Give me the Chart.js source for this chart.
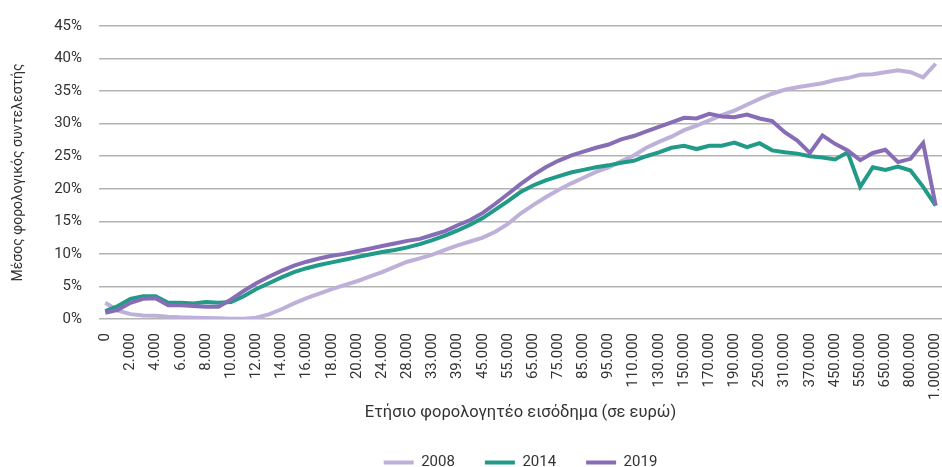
<!DOCTYPE html>
<html lang="el">
<head>
<meta charset="utf-8">
<title>Μέσος φορολογικός συντελεστής</title>
<script src="https://cdn.jsdelivr.net/npm/chart.js@4.4.1/dist/chart.umd.min.js"></script>
<style>
  html, body { margin: 0; padding: 0; background: #fff; }
  #wrap { width: 942px; height: 467px; position: relative; }
</style>
</head>
<body>
<div id="wrap"><canvas id="taxChart"></canvas></div>
<script>
// Κατηγορίες εισοδήματος (άξονας x)
const categorias = [
  '0', '1.000', '2.000', '3.000', '4.000', '5.000', '6.000', '7.000', '8.000', '9.000',
  '10.000', '11.000', '12.000', '13.000', '14.000', '15.000', '16.000', '17.000', '18.000', '19.000',
  '20.000', '22.000', '24.000', '26.000', '28.000', '30.000', '33.000', '36.000', '39.000', '42.000',
  '45.000', '50.000', '55.000', '60.000', '65.000', '70.000', '75.000', '80.000', '85.000', '90.000',
  '95.000', '100.000', '110.000', '120.000', '130.000', '140.000', '150.000', '160.000', '170.000', '180.000',
  '190.000', '220.000', '250.000', '280.000', '310.000', '340.000', '370.000', '410.000', '450.000', '500.000',
  '550.000', '600.000', '650.000', '700.000', '800.000', '900.000', '1.000.000'
];

// Μέσος συντελεστής (%) ανά έτος
const valores2008 = [
  2.5, 1.3, 0.75, 0.55, 0.5, 0.35, 0.25, 0.2, 0.15, 0.1,
  0.05, 0.05, 0.2, 0.7, 1.5, 2.4, 3.2, 3.9, 4.6, 5.2,
  5.8, 6.5, 7.2, 8.0, 8.8, 9.3, 9.9, 10.6, 11.3, 11.9,
  12.5, 13.4, 14.6, 16.2, 17.5, 18.7, 19.8, 20.8, 21.7, 22.6,
  23.3, 24.2, 25.1, 26.3, 27.2, 28.0, 29.0, 29.7, 30.5, 31.3,
  32.0, 32.9, 33.8, 34.6, 35.2, 35.6, 35.9, 36.2, 36.7, 37.0,
  37.5, 37.6, 37.9, 38.2, 37.9, 37.1, 39.2
];
const valores2014 = [
  1.2, 2.0, 3.1, 3.5, 3.5, 2.5, 2.5, 2.4, 2.6, 2.5,
  2.6, 3.5, 4.6, 5.5, 6.4, 7.2, 7.8, 8.3, 8.7, 9.1,
  9.5, 9.9, 10.3, 10.6, 11.0, 11.5, 12.1, 12.8, 13.6, 14.5,
  15.5, 16.8, 18.1, 19.5, 20.5, 21.3, 21.9, 22.5, 22.9, 23.3,
  23.6, 24.0, 24.3, 25.0, 25.6, 26.3, 26.6, 26.1, 26.6, 26.6,
  27.1, 26.4, 27.0, 25.9, 25.6, 25.4, 25.0, 24.8, 24.5, 25.6,
  20.3, 23.3, 22.9, 23.4, 22.8, 20.3, 17.4
];
const valores2019 = [
  0.95, 1.4, 2.5, 3.1, 3.2, 2.1, 2.1, 2.0, 1.9, 1.9,
  3.0, 4.3, 5.5, 6.5, 7.4, 8.2, 8.8, 9.3, 9.7, 10.0,
  10.4, 10.8, 11.2, 11.6, 12.0, 12.3, 12.9, 13.5, 14.4, 15.2,
  16.3, 17.7, 19.2, 20.7, 22.1, 23.3, 24.3, 25.1, 25.7, 26.3,
  26.8, 27.6, 28.1, 28.8, 29.5, 30.2, 30.9, 30.8, 31.5, 31.1,
  31.0, 31.4, 30.8, 30.4, 28.7, 27.4, 25.5, 28.2, 26.9, 25.9,
  24.4, 25.5, 26.0, 24.1, 24.6, 27.0, 17.4
];

// Ticks του άξονα y (%)
const ticksY = [0, 5, 10, 15, 20, 25, 30, 35, 40, 45];

const fuente = "'Roboto', sans-serif";
const colorTexto = '#333333';

function serie(label, data, color, orden) {
    return {
        label: label,
        data: data,
        borderColor: color,
        backgroundColor: color,
        borderWidth: 4,
        pointRadius: 0,
        tension: 0,
        fill: false,
        order: orden
    };
}

const ctx = document.getElementById('taxChart').getContext('2d');
const taxChart = new Chart(ctx, {
    type: 'line',
    data: {
        labels: categorias,
        datasets: [
            serie('2008', valores2008, '#BEB1D9', 3),
            serie('2014', valores2014, '#219A87', 2),
            serie('2019', valores2019, '#876DB5', 1)
        ]
    },
    options: {
        responsive: true,
        maintainAspectRatio: false,
        animation: false,
        layout: { padding: { top: 20, right: 0, left: 0, bottom: -13 } },
        plugins: {
            tooltip: { enabled: false },
            legend: {
                position: 'bottom',
                fullSize: false,
                labels: {
                    usePointStyle: true,
                    pointStyle: 'line',
                    pointStyleWidth: 30,
                    boxHeight: 14,
                    padding: 30,
                    color: colorTexto,
                    font: { family: fuente, size: 15 },
                    sort: (a, b) => a.datasetIndex - b.datasetIndex
                }
            }
        },
        scales: {
            x: {
                offset: true,
                grid: { display: false, drawTicks: false },
                border: { display: false },
                ticks: {
                    autoSkip: false,
                    minRotation: 90,
                    maxRotation: 90,
                    padding: 14,
                    color: colorTexto,
                    font: { family: fuente, size: 15 },
                    callback: function(value, index) {
                        return index % 2 === 0 ? categorias[index] : '';
                    }
                },
                title: {
                    display: true,
                    text: 'Ετήσιο φορολογητέο εισόδημα (σε ευρώ)',
                    color: colorTexto,
                    font: { family: fuente, size: 16.5 },
                    padding: { top: 0, bottom: 2 }
                },
                afterFit: function(scale) {
                    scale.height = 106;
                    scale.paddingLeft = 0;
                    scale.paddingRight = 0;
                }
            },
            y: {
                min: 0,
                max: 45,
                grid: { color: '#B4B4B4', lineWidth: 1.5, drawTicks: false },
                border: { display: false },
                afterBuildTicks: function(scale) {
                    scale.ticks = ticksY.map(v => ({ value: v }));
                },
                ticks: {
                    padding: 17,
                    color: colorTexto,
                    font: { family: fuente, size: 15 },
                    callback: function(value) { return value + '%'; }
                },
                title: {
                    display: true,
                    text: 'Μέσος φορολογικός συντελεστής',
                    color: colorTexto,
                    font: { family: fuente, size: 14 },
                    padding: { top: 10, bottom: 0 }
                },
                afterFit: function(scale) { scale.width = 99; }
            }
        }
    }
});
</script>
</body>
</html>
